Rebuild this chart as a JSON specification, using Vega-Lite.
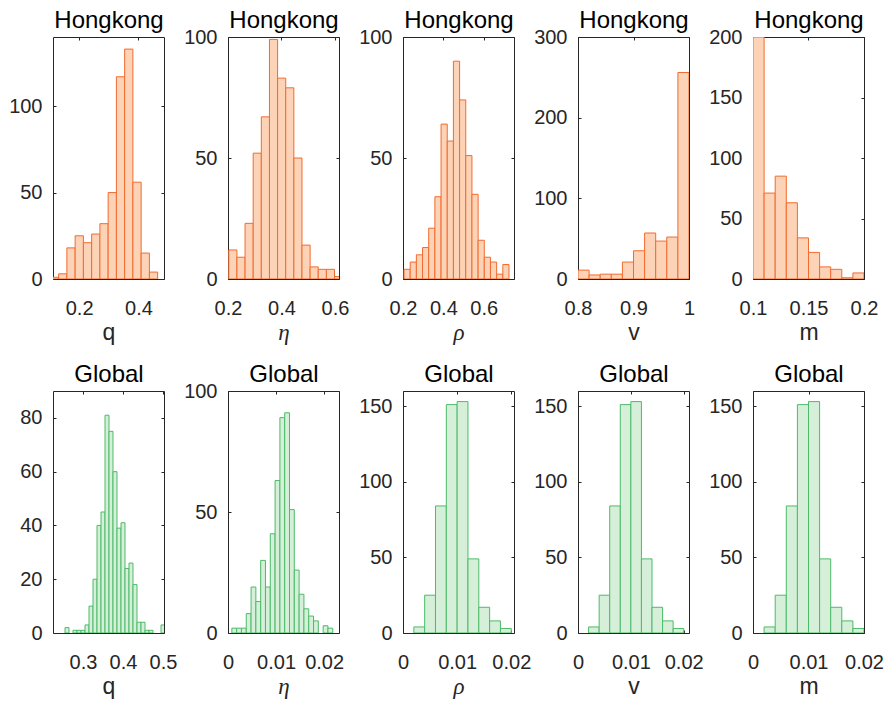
{
"$schema":"https://vega.github.io/schema/vega-lite/v6.json",
"background":"white",
"padding":{"left":8,"top":7,"right":5,"bottom":5},
"datasets":{
"hk_q":[{"b0":0.1032,"b1":0.131,"n":1},{"b0":0.131,"b1":0.1588,"n":3},{"b0":0.1588,"b1":0.1866,"n":18},{"b0":0.1866,"b1":0.2144,"n":25},{"b0":0.2144,"b1":0.2422,"n":21},{"b0":0.2422,"b1":0.27,"n":26},{"b0":0.27,"b1":0.2978,"n":32},{"b0":0.2978,"b1":0.3256,"n":50},{"b0":0.3256,"b1":0.3534,"n":117},{"b0":0.3534,"b1":0.3812,"n":133},{"b0":0.3812,"b1":0.409,"n":56},{"b0":0.409,"b1":0.4368,"n":15},{"b0":0.4368,"b1":0.4646,"n":4}],
"hk_eta":[{"b0":0.203,"b1":0.2334,"n":12},{"b0":0.2334,"b1":0.2638,"n":9},{"b0":0.2638,"b1":0.2942,"n":23},{"b0":0.2942,"b1":0.3246,"n":52},{"b0":0.3246,"b1":0.355,"n":67},{"b0":0.355,"b1":0.3854,"n":99},{"b0":0.3854,"b1":0.4158,"n":83},{"b0":0.4158,"b1":0.4462,"n":79},{"b0":0.4462,"b1":0.4766,"n":50},{"b0":0.4766,"b1":0.507,"n":14},{"b0":0.507,"b1":0.5374,"n":5},{"b0":0.5374,"b1":0.5678,"n":4},{"b0":0.5678,"b1":0.5982,"n":4},{"b0":0.5982,"b1":0.6286,"n":1}],
"hk_rho":[{"b0":0.205,"b1":0.2356,"n":4},{"b0":0.2356,"b1":0.2662,"n":7},{"b0":0.2662,"b1":0.2968,"n":10},{"b0":0.2968,"b1":0.3274,"n":13},{"b0":0.3274,"b1":0.358,"n":21},{"b0":0.358,"b1":0.3886,"n":34},{"b0":0.3886,"b1":0.4192,"n":64},{"b0":0.4192,"b1":0.4498,"n":57},{"b0":0.4498,"b1":0.4804,"n":90},{"b0":0.4804,"b1":0.511,"n":74},{"b0":0.511,"b1":0.5416,"n":51},{"b0":0.5416,"b1":0.5722,"n":35},{"b0":0.5722,"b1":0.6028,"n":16},{"b0":0.6028,"b1":0.6334,"n":9},{"b0":0.6334,"b1":0.664,"n":7},{"b0":0.664,"b1":0.6946,"n":2},{"b0":0.6946,"b1":0.7252,"n":6}],
"hk_v":[{"b0":0.8,"b1":0.82,"n":11},{"b0":0.82,"b1":0.84,"n":5},{"b0":0.84,"b1":0.86,"n":6},{"b0":0.86,"b1":0.88,"n":6},{"b0":0.88,"b1":0.9,"n":21},{"b0":0.9,"b1":0.92,"n":35},{"b0":0.92,"b1":0.94,"n":57},{"b0":0.94,"b1":0.96,"n":47},{"b0":0.96,"b1":0.98,"n":52},{"b0":0.98,"b1":1.0,"n":256}],
"hk_m":[{"b0":0.1,"b1":0.11,"n":200},{"b0":0.11,"b1":0.12,"n":71},{"b0":0.12,"b1":0.13,"n":85},{"b0":0.13,"b1":0.14,"n":63},{"b0":0.14,"b1":0.15,"n":34},{"b0":0.15,"b1":0.16,"n":22},{"b0":0.16,"b1":0.17,"n":10},{"b0":0.17,"b1":0.18,"n":8},{"b0":0.18,"b1":0.19,"n":1},{"b0":0.19,"b1":0.2,"n":5}],
"gl_q":[{"b0":0.255,"b1":0.265,"n":2},{"b0":0.275,"b1":0.285,"n":1},{"b0":0.285,"b1":0.295,"n":1},{"b0":0.295,"b1":0.305,"n":1},{"b0":0.305,"b1":0.315,"n":3},{"b0":0.315,"b1":0.325,"n":10},{"b0":0.325,"b1":0.335,"n":20},{"b0":0.335,"b1":0.345,"n":40},{"b0":0.345,"b1":0.355,"n":45},{"b0":0.355,"b1":0.365,"n":81},{"b0":0.365,"b1":0.375,"n":75},{"b0":0.375,"b1":0.385,"n":60},{"b0":0.385,"b1":0.395,"n":39},{"b0":0.395,"b1":0.405,"n":41},{"b0":0.405,"b1":0.415,"n":24},{"b0":0.415,"b1":0.425,"n":26},{"b0":0.425,"b1":0.435,"n":18},{"b0":0.435,"b1":0.445,"n":4},{"b0":0.445,"b1":0.455,"n":4},{"b0":0.455,"b1":0.465,"n":1},{"b0":0.465,"b1":0.475,"n":1},{"b0":0.495,"b1":0.505,"n":3}],
"gl_eta":[{"b0":0.0008,"b1":0.0018,"n":2},{"b0":0.0018,"b1":0.0028,"n":2},{"b0":0.0028,"b1":0.0038,"n":2},{"b0":0.0038,"b1":0.0048,"n":8},{"b0":0.0048,"b1":0.0058,"n":19},{"b0":0.0058,"b1":0.0068,"n":13},{"b0":0.0068,"b1":0.0078,"n":30},{"b0":0.0078,"b1":0.0088,"n":19},{"b0":0.0088,"b1":0.0098,"n":41},{"b0":0.0098,"b1":0.0108,"n":63},{"b0":0.0108,"b1":0.0118,"n":89},{"b0":0.0118,"b1":0.0128,"n":91},{"b0":0.0128,"b1":0.0138,"n":51},{"b0":0.0138,"b1":0.0148,"n":26},{"b0":0.0148,"b1":0.0158,"n":16},{"b0":0.0158,"b1":0.0168,"n":10},{"b0":0.0168,"b1":0.0178,"n":7},{"b0":0.0178,"b1":0.0188,"n":5},{"b0":0.0198,"b1":0.0208,"n":3},{"b0":0.0208,"b1":0.0218,"n":2}],
"gl_x":[{"b0":0.002,"b1":0.004,"n":4},{"b0":0.004,"b1":0.006,"n":25},{"b0":0.006,"b1":0.008,"n":84},{"b0":0.008,"b1":0.01,"n":151},{"b0":0.01,"b1":0.012,"n":153},{"b0":0.012,"b1":0.014,"n":49},{"b0":0.014,"b1":0.016,"n":17},{"b0":0.016,"b1":0.018,"n":8},{"b0":0.018,"b1":0.02,"n":3}]
},
"columns":5,
"spacing":{"row":112,"column":64},
"bounds":"flush",
"concat":[
{"width":111,"height":242,"data":{"name":"hk_q"},
 "layer":[
 {"mark":{"type":"bar","fill":"#FCD3B6","stroke":"#F26B2E","strokeWidth":1,"clip":true},
  "encoding":{"x":{"field":"b0","type":"quantitative","scale":{"domain":[0.112,0.486],"nice":false,"zero":false},"axis":{"orient":"bottom","values":[0.2,0.4],"labelExpr":"format(datum.value,'~g')","title":"q","titleY":60,"titleBaseline":"alphabetic"}},
  "x2":{"field":"b1"},
  "y":{"field":"n","type":"quantitative","scale":{"domain":[0,140],"nice":false},"axis":{"orient":"left","values":[0,50,100],"labelExpr":"format(datum.value,'~g')","title":null}},
  "y2":{"datum":0}}},
 {"mark":{"type":"point","opacity":0},
  "encoding":{"x":{"field":"b0","type":"quantitative","scale":{"domain":[0.112,0.486],"nice":false,"zero":false},"axis":{"orient":"top","values":[0.2,0.4],"labels":false,"title":"Hongkong","titleColor":"#000000","titleFontSize":24,"titleY":-10,"titleBaseline":"alphabetic"}},
  "y":{"field":"n","type":"quantitative","scale":{"domain":[0,140],"nice":false},"axis":{"orient":"right","values":[0,50,100],"labels":false,"title":null}}}}
 ],
 "resolve":{"axis":{"x":"independent","y":"independent"}}},
{"width":111,"height":242,"data":{"name":"hk_eta"},
 "layer":[
 {"mark":{"type":"bar","fill":"#FCD3B6","stroke":"#F26B2E","strokeWidth":1,"clip":true},
  "encoding":{"x":{"field":"b0","type":"quantitative","scale":{"domain":[0.2,0.615],"nice":false,"zero":false},"axis":{"orient":"bottom","values":[0.2,0.4,0.6],"labelExpr":"format(datum.value,'~g')","title":"η","titleFont":"Liberation Serif","titleFontStyle":"italic","titleY":60,"titleBaseline":"alphabetic"}},
  "x2":{"field":"b1"},
  "y":{"field":"n","type":"quantitative","scale":{"domain":[0,100],"nice":false},"axis":{"orient":"left","values":[0,50,100],"labelExpr":"format(datum.value,'~g')","title":null}},
  "y2":{"datum":0}}},
 {"mark":{"type":"point","opacity":0},
  "encoding":{"x":{"field":"b0","type":"quantitative","scale":{"domain":[0.2,0.615],"nice":false,"zero":false},"axis":{"orient":"top","values":[0.2,0.4,0.6],"labels":false,"title":"Hongkong","titleColor":"#000000","titleFontSize":24,"titleY":-10,"titleBaseline":"alphabetic"}},
  "y":{"field":"n","type":"quantitative","scale":{"domain":[0,100],"nice":false},"axis":{"orient":"right","values":[0,50,100],"labels":false,"title":null}}}}
 ],
 "resolve":{"axis":{"x":"independent","y":"independent"}}},
{"width":111,"height":242,"data":{"name":"hk_rho"},
 "layer":[
 {"mark":{"type":"bar","fill":"#FCD3B6","stroke":"#F26B2E","strokeWidth":1,"clip":true},
  "encoding":{"x":{"field":"b0","type":"quantitative","scale":{"domain":[0.2,0.75],"nice":false,"zero":false},"axis":{"orient":"bottom","values":[0.2,0.4,0.6],"labelExpr":"format(datum.value,'~g')","title":"ρ","titleFont":"Liberation Serif","titleFontStyle":"italic","titleY":60,"titleBaseline":"alphabetic"}},
  "x2":{"field":"b1"},
  "y":{"field":"n","type":"quantitative","scale":{"domain":[0,100],"nice":false},"axis":{"orient":"left","values":[0,50,100],"labelExpr":"format(datum.value,'~g')","title":null}},
  "y2":{"datum":0}}},
 {"mark":{"type":"point","opacity":0},
  "encoding":{"x":{"field":"b0","type":"quantitative","scale":{"domain":[0.2,0.75],"nice":false,"zero":false},"axis":{"orient":"top","values":[0.2,0.4,0.6],"labels":false,"title":"Hongkong","titleColor":"#000000","titleFontSize":24,"titleY":-10,"titleBaseline":"alphabetic"}},
  "y":{"field":"n","type":"quantitative","scale":{"domain":[0,100],"nice":false},"axis":{"orient":"right","values":[0,50,100],"labels":false,"title":null}}}}
 ],
 "resolve":{"axis":{"x":"independent","y":"independent"}}},
{"width":111,"height":242,"data":{"name":"hk_v"},
 "layer":[
 {"mark":{"type":"bar","fill":"#FCD3B6","stroke":"#F26B2E","strokeWidth":1,"clip":true},
  "encoding":{"x":{"field":"b0","type":"quantitative","scale":{"domain":[0.8,1.0],"nice":false,"zero":false},"axis":{"orient":"bottom","values":[0.8,0.9,1],"labelExpr":"format(datum.value,'~g')","title":"v","titleY":60,"titleBaseline":"alphabetic"}},
  "x2":{"field":"b1"},
  "y":{"field":"n","type":"quantitative","scale":{"domain":[0,300],"nice":false},"axis":{"orient":"left","values":[0,100,200,300],"labelExpr":"format(datum.value,'~g')","title":null}},
  "y2":{"datum":0}}},
 {"mark":{"type":"point","opacity":0},
  "encoding":{"x":{"field":"b0","type":"quantitative","scale":{"domain":[0.8,1.0],"nice":false,"zero":false},"axis":{"orient":"top","values":[0.8,0.9,1],"labels":false,"title":"Hongkong","titleColor":"#000000","titleFontSize":24,"titleY":-10,"titleBaseline":"alphabetic"}},
  "y":{"field":"n","type":"quantitative","scale":{"domain":[0,300],"nice":false},"axis":{"orient":"right","values":[0,100,200,300],"labels":false,"title":null}}}}
 ],
 "resolve":{"axis":{"x":"independent","y":"independent"}}},
{"width":111,"height":242,"data":{"name":"hk_m"},
 "layer":[
 {"mark":{"type":"bar","fill":"#FCD3B6","stroke":"#F26B2E","strokeWidth":1,"clip":true},
  "encoding":{"x":{"field":"b0","type":"quantitative","scale":{"domain":[0.1,0.2],"nice":false,"zero":false},"axis":{"orient":"bottom","values":[0.1,0.15,0.2],"labelExpr":"format(datum.value,'~g')","title":"m","titleY":60,"titleBaseline":"alphabetic"}},
  "x2":{"field":"b1"},
  "y":{"field":"n","type":"quantitative","scale":{"domain":[0,200],"nice":false},"axis":{"orient":"left","values":[0,50,100,150,200],"labelExpr":"format(datum.value,'~g')","title":null}},
  "y2":{"datum":0}}},
 {"mark":{"type":"point","opacity":0},
  "encoding":{"x":{"field":"b0","type":"quantitative","scale":{"domain":[0.1,0.2],"nice":false,"zero":false},"axis":{"orient":"top","values":[0.1,0.15,0.2],"labels":false,"title":"Hongkong","titleColor":"#000000","titleFontSize":24,"titleY":-10,"titleBaseline":"alphabetic"}},
  "y":{"field":"n","type":"quantitative","scale":{"domain":[0,200],"nice":false},"axis":{"orient":"right","values":[0,50,100,150,200],"labels":false,"title":null}}}}
 ],
 "resolve":{"axis":{"x":"independent","y":"independent"}}},
{"width":111,"height":242,"data":{"name":"gl_q"},
 "layer":[
 {"mark":{"type":"bar","fill":"#D5EFD8","stroke":"#4DBB6A","strokeWidth":1,"clip":true},
  "encoding":{"x":{"field":"b0","type":"quantitative","scale":{"domain":[0.225,0.5025],"nice":false,"zero":false},"axis":{"orient":"bottom","values":[0.3,0.4,0.5],"labelExpr":"format(datum.value,'~g')","title":"q","titleY":60,"titleBaseline":"alphabetic"}},
  "x2":{"field":"b1"},
  "y":{"field":"n","type":"quantitative","scale":{"domain":[0,90],"nice":false},"axis":{"orient":"left","values":[0,20,40,60,80],"labelExpr":"format(datum.value,'~g')","title":null}},
  "y2":{"datum":0}}},
 {"mark":{"type":"point","opacity":0},
  "encoding":{"x":{"field":"b0","type":"quantitative","scale":{"domain":[0.225,0.5025],"nice":false,"zero":false},"axis":{"orient":"top","values":[0.3,0.4,0.5],"labels":false,"title":"Global","titleColor":"#000000","titleFontSize":24,"titleY":-10,"titleBaseline":"alphabetic"}},
  "y":{"field":"n","type":"quantitative","scale":{"domain":[0,90],"nice":false},"axis":{"orient":"right","values":[0,20,40,60,80],"labels":false,"title":null}}}}
 ],
 "resolve":{"axis":{"x":"independent","y":"independent"}}},
{"width":111,"height":242,"data":{"name":"gl_eta"},
 "layer":[
 {"mark":{"type":"bar","fill":"#D5EFD8","stroke":"#4DBB6A","strokeWidth":1,"clip":true},
  "encoding":{"x":{"field":"b0","type":"quantitative","scale":{"domain":[0,0.0231],"nice":false,"zero":false},"axis":{"orient":"bottom","values":[0,0.01,0.02],"labelExpr":"format(datum.value,'~g')","title":"η","titleFont":"Liberation Serif","titleFontStyle":"italic","titleY":60,"titleBaseline":"alphabetic"}},
  "x2":{"field":"b1"},
  "y":{"field":"n","type":"quantitative","scale":{"domain":[0,100],"nice":false},"axis":{"orient":"left","values":[0,50,100],"labelExpr":"format(datum.value,'~g')","title":null}},
  "y2":{"datum":0}}},
 {"mark":{"type":"point","opacity":0},
  "encoding":{"x":{"field":"b0","type":"quantitative","scale":{"domain":[0,0.0231],"nice":false,"zero":false},"axis":{"orient":"top","values":[0,0.01,0.02],"labels":false,"title":"Global","titleColor":"#000000","titleFontSize":24,"titleY":-10,"titleBaseline":"alphabetic"}},
  "y":{"field":"n","type":"quantitative","scale":{"domain":[0,100],"nice":false},"axis":{"orient":"right","values":[0,50,100],"labels":false,"title":null}}}}
 ],
 "resolve":{"axis":{"x":"independent","y":"independent"}}},
{"width":111,"height":242,"data":{"name":"gl_x"},
 "layer":[
 {"mark":{"type":"bar","fill":"#D5EFD8","stroke":"#4DBB6A","strokeWidth":1,"clip":true},
  "encoding":{"x":{"field":"b0","type":"quantitative","scale":{"domain":[0,0.0205],"nice":false,"zero":false},"axis":{"orient":"bottom","values":[0,0.01,0.02],"labelExpr":"format(datum.value,'~g')","title":"ρ","titleFont":"Liberation Serif","titleFontStyle":"italic","titleY":60,"titleBaseline":"alphabetic"}},
  "x2":{"field":"b1"},
  "y":{"field":"n","type":"quantitative","scale":{"domain":[0,160],"nice":false},"axis":{"orient":"left","values":[0,50,100,150],"labelExpr":"format(datum.value,'~g')","title":null}},
  "y2":{"datum":0}}},
 {"mark":{"type":"point","opacity":0},
  "encoding":{"x":{"field":"b0","type":"quantitative","scale":{"domain":[0,0.0205],"nice":false,"zero":false},"axis":{"orient":"top","values":[0,0.01,0.02],"labels":false,"title":"Global","titleColor":"#000000","titleFontSize":24,"titleY":-10,"titleBaseline":"alphabetic"}},
  "y":{"field":"n","type":"quantitative","scale":{"domain":[0,160],"nice":false},"axis":{"orient":"right","values":[0,50,100,150],"labels":false,"title":null}}}}
 ],
 "resolve":{"axis":{"x":"independent","y":"independent"}}},
{"width":111,"height":242,"data":{"name":"gl_x"},
 "layer":[
 {"mark":{"type":"bar","fill":"#D5EFD8","stroke":"#4DBB6A","strokeWidth":1,"clip":true},
  "encoding":{"x":{"field":"b0","type":"quantitative","scale":{"domain":[0,0.021],"nice":false,"zero":false},"axis":{"orient":"bottom","values":[0,0.01,0.02],"labelExpr":"format(datum.value,'~g')","title":"v","titleY":60,"titleBaseline":"alphabetic"}},
  "x2":{"field":"b1"},
  "y":{"field":"n","type":"quantitative","scale":{"domain":[0,160],"nice":false},"axis":{"orient":"left","values":[0,50,100,150],"labelExpr":"format(datum.value,'~g')","title":null}},
  "y2":{"datum":0}}},
 {"mark":{"type":"point","opacity":0},
  "encoding":{"x":{"field":"b0","type":"quantitative","scale":{"domain":[0,0.021],"nice":false,"zero":false},"axis":{"orient":"top","values":[0,0.01,0.02],"labels":false,"title":"Global","titleColor":"#000000","titleFontSize":24,"titleY":-10,"titleBaseline":"alphabetic"}},
  "y":{"field":"n","type":"quantitative","scale":{"domain":[0,160],"nice":false},"axis":{"orient":"right","values":[0,50,100,150],"labels":false,"title":null}}}}
 ],
 "resolve":{"axis":{"x":"independent","y":"independent"}}},
{"width":111,"height":242,"data":{"name":"gl_x"},
 "layer":[
 {"mark":{"type":"bar","fill":"#D5EFD8","stroke":"#4DBB6A","strokeWidth":1,"clip":true},
  "encoding":{"x":{"field":"b0","type":"quantitative","scale":{"domain":[0,0.02],"nice":false,"zero":false},"axis":{"orient":"bottom","values":[0,0.01,0.02],"labelExpr":"format(datum.value,'~g')","title":"m","titleY":60,"titleBaseline":"alphabetic"}},
  "x2":{"field":"b1"},
  "y":{"field":"n","type":"quantitative","scale":{"domain":[0,160],"nice":false},"axis":{"orient":"left","values":[0,50,100,150],"labelExpr":"format(datum.value,'~g')","title":null}},
  "y2":{"datum":0}}},
 {"mark":{"type":"point","opacity":0},
  "encoding":{"x":{"field":"b0","type":"quantitative","scale":{"domain":[0,0.02],"nice":false,"zero":false},"axis":{"orient":"top","values":[0,0.01,0.02],"labels":false,"title":"Global","titleColor":"#000000","titleFontSize":24,"titleY":-10,"titleBaseline":"alphabetic"}},
  "y":{"field":"n","type":"quantitative","scale":{"domain":[0,160],"nice":false},"axis":{"orient":"right","values":[0,50,100,150],"labels":false,"title":null}}}}
 ],
 "resolve":{"axis":{"x":"independent","y":"independent"}}}
],
"config":{
 "view":{"stroke":"#262626","strokeWidth":1},
 "axis":{"domain":false,"grid":false,"tickColor":"#262626","tickSize":-3,"labelFont":"Liberation Sans","labelFontSize":20,"labelColor":"#262626","labelFlush":false,"labelOverlap":false,"labelBound":false,"titleFont":"Liberation Sans","titleFontSize":23,"titleFontWeight":"normal","titleColor":"#262626"},
 "axisX":{"labelPadding":22},
 "axisY":{"labelPadding":14},
 "bar":{"binSpacing":0}
}
}
